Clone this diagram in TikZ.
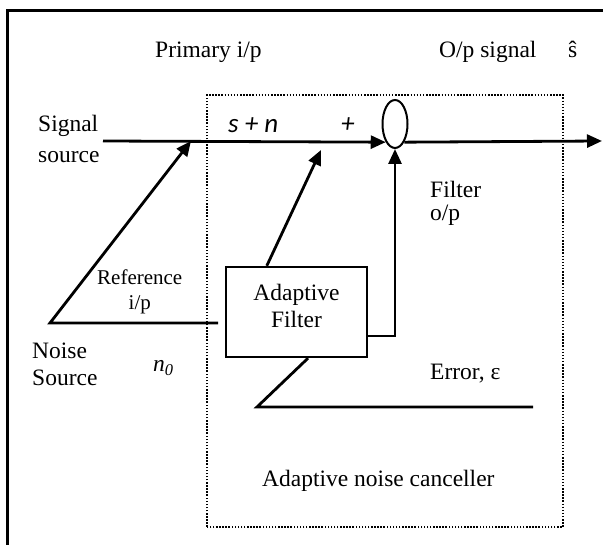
\documentclass[tikz,border=0pt]{standalone}
\usepackage{fontspec}
\setmainfont{Liberation Serif}
\newfontfamily\calibrifont{Carlito}
\usetikzlibrary{arrows.meta,shapes.geometric}

\begin{document}
\begin{tikzpicture}[x=1pt, y=1pt,
    >={Triangle[length=15pt,width=13pt]},
    lbl/.style={anchor=base west, inner sep=0pt, font=\fontsize{23.5}{27}\selectfont},
    wire/.style={line width=2.8pt}]
  \useasboundingbox (0,0) rectangle (603,545);
  % frame and canceller region
  \draw[line width=3pt] (7,0) -- (7,534) -- (603,534);
  \draw[line width=1.5pt, dash pattern=on 1.5pt off 1.6pt] (207,18) rectangle (563,450);
  % blocks
  \node[draw, ellipse, line width=2pt, minimum width=25pt, minimum height=48pt, inner sep=0pt] (sum) at (395,421) {};
  \node[draw, line width=2.4pt, minimum width=141pt, minimum height=90pt, inner sep=0pt] (filt) at (296.5,233) {};
  \node[align=center, inner sep=0pt, font=\fontsize{23.5}{27}\selectfont] (filttxt) at ([yshift=6.5pt]filt.center) {Adaptive\\Filter};
  % free ends
  \coordinate (in) at (103,404);
  \coordinate (out) at (602,404);
  \coordinate (pjoin) at (191,404);
  \coordinate (adapt) at (321,395);
  \coordinate (noise) at (50,222);
  \coordinate (refend) at (218,222);
  \coordinate (errbend) at (257,138);
  \coordinate (errend) at (533,138);
  % connectors
  \draw[wire] [->] (in) -- (sum.-117);
  \draw[wire] [->] (sum.-63) -- (out);
  \draw[wire] [->] (refend) -- (noise) -- (pjoin);
  \draw[wire] [->] ([xshift=42pt]filt.north west) -- (adapt);
  \draw[wire] [->] ([yshift=-24pt]filt.east) -| (sum.south);
  \draw[wire] ([xshift=11.5pt]filt.south) -- (errbend) -- (errend);
  % labels
  \node[lbl] (prim) at (155,487) {Primary i/p};
  \node[lbl] (opsig) at (439,487) {O/p signal};
  \node[lbl] (shat) at (568,487) {ŝ};
  \node[lbl, align=left] (sigsrc) at (38,382) {Signal\\[4pt]source};
  \node[lbl, font=\calibrifont\itshape\fontsize{27}{30}\selectfont] (sn) at (228,412) {s + n};
  \node[lbl, font=\calibrifont\itshape\fontsize{27}{30}\selectfont] (plus) at (341,412) {+};
  \node[lbl, align=left] (filtop) at (430,324) {Filter\\[-4pt]o/p};
  \node[lbl, align=center, font=\fontsize{21}{25}\selectfont] (refip) at (97,235) {Reference\\i/p};
  \node[lbl, align=left] (noisesrc) at (32,159) {Noise\\Source};
  \node[lbl] (nzero) at (153,173) {\textit{n}\textsubscript{\textit{0}}};
  \node[lbl] (err) at (430,165) {Error, ε};
  \node[lbl] (anc) at (262,58) {Adaptive noise canceller};
\end{tikzpicture}
\end{document}
